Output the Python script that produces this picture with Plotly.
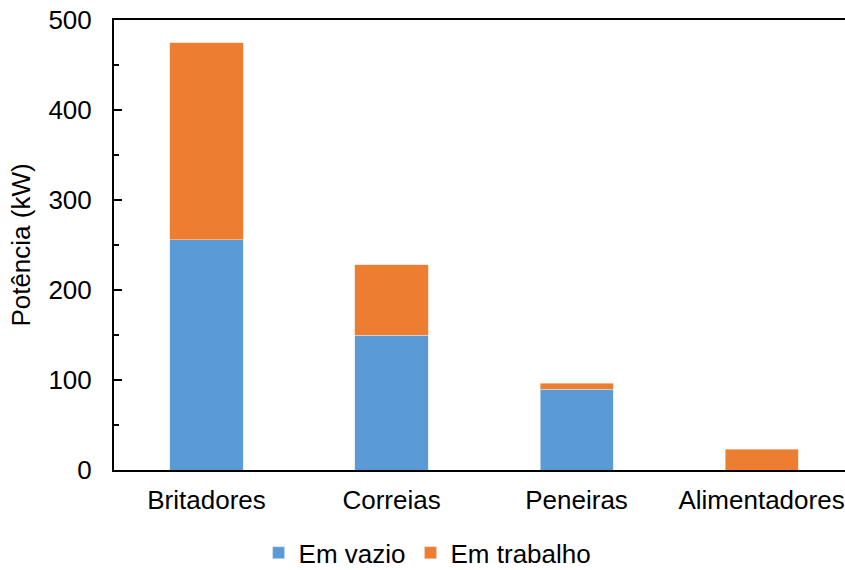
import plotly.graph_objects as go

categories = ["Britadores", "Correias", "Peneiras", "Alimentadores"]
em_vazio = [256, 150, 90, 0]
em_trabalho = [219, 78, 6.5, 23]
y_ticks = [0, 100, 200, 300, 400, 500]

FONT = "Liberation Sans, Arial, sans-serif"
FS = 26

fig = go.Figure()
fig.add_trace(go.Bar(x=categories, y=em_vazio, name="Em vazio",
                     marker=dict(color="#5B9BD5", line=dict(color="#d6e6f5", width=0.6))))
fig.add_trace(go.Bar(x=categories, y=em_trabalho, name="Em trabalho",
                     marker=dict(color="#ED7D31", line=dict(color="#f8d3bb", width=0.6))))

fig.update_layout(
    width=845, height=570,
    barmode="stack", bargap=0.605,
    margin=dict(l=114, r=0, t=20, b=100, autoexpand=False),
    plot_bgcolor="white", paper_bgcolor="white",
    font=dict(family=FONT, size=FS, color="black"),
    legend=dict(orientation="h", xref="paper", x=0.429, xanchor="center",
                yref="paper", y=-0.184, yanchor="middle",
                font=dict(size=FS), itemwidth=30, traceorder="normal"),
    showlegend=True,
)
fig.update_xaxes(range=[-0.5, 3.451], showline=True, linecolor="black", linewidth=2,
                 mirror=True, ticks="", showgrid=False, ticklabelstandoff=6,
                 automargin=False, tickfont=dict(size=FS))
fig.update_yaxes(range=[0, 500], tickvals=y_ticks, showline=True, linecolor="black",
                 linewidth=2, ticks="inside", ticklen=8, tickwidth=1.5, tickcolor="black",
                 minor=dict(dtick=50, ticks="inside", ticklen=5, tickwidth=1.5, tickcolor="black"),
                 showgrid=False, zeroline=False, ticklabelstandoff=15, automargin=False,
                 title=dict(text="Potência (kW)", font=dict(size=FS), standoff=10),
                 tickfont=dict(size=FS))

fig.write_html("out.html", config={"displayModeBar": False},
               post_script="document.body.style.margin='0';document.body.style.overflow='hidden';")
